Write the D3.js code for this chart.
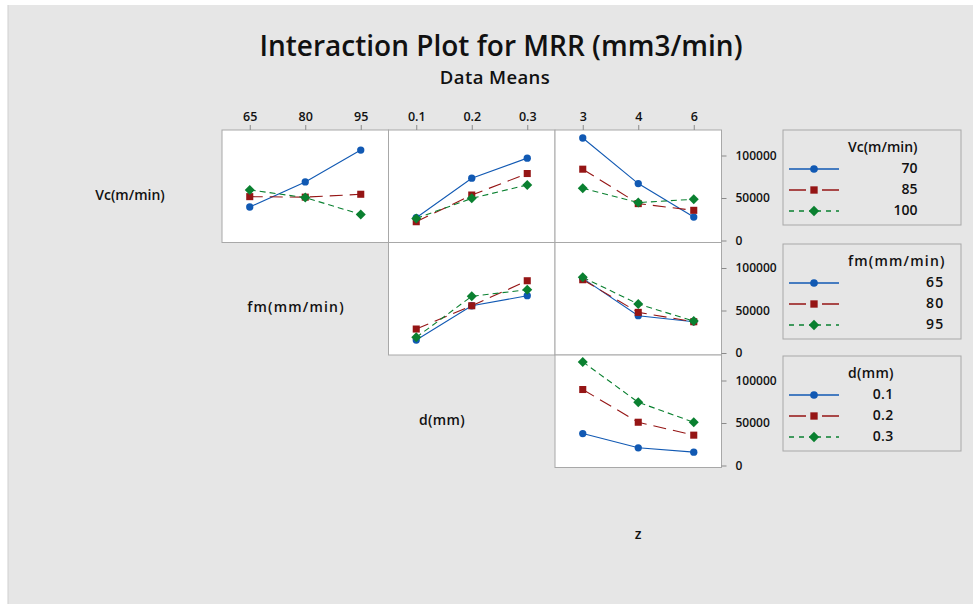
<!DOCTYPE html>
<html>
<head>
<meta charset="utf-8">
<script src="https://cdn.jsdelivr.net/npm/d3@7"></script>
<style>
  body { margin: 0; background: #fff; }
  text { font-family: "Open Sans", "Noto Sans", sans-serif; fill: #111; }
</style>
</head>
<body>
<div id="plot"></div>
<script>
// Factor levels
const vcLevels = ["70", "85", "100"];
const fmLevels = ["65", "80", "95"];
const dLevels = ["0.1", "0.2", "0.3"];
const zLevels = ["3", "4", "6"];

// Means, one row per line level
const vcByFm = [[39400, 68900, 106400], [51600, 51000, 54400], [59500, 50500, 30700]];
const vcByD = [[26800, 73300, 96900], [22100, 53500, 78800], [26000, 49600, 65400]];
const vcByZ = [[120600, 67000, 27600], [83900, 43400, 35500], [61500, 44600, 48500]];
const fmByD = [[15300, 55600, 67400], [28200, 55600, 85000], [18400, 66700, 74500]];
const fmByZ = [[87800, 43900, 36800], [86200, 47800, 36800], [89000, 57600, 37600]];
const dByZ = [[37600, 20800, 15700], [89400, 50900, 35700], [121900, 74400, 50900]];

const yTicks = [0, 50000, 100000];

const colors = ["#1159b3", "#951515", "#0a8030"];
const dashes = [null, "13,7", "6,4"];
const lineW = 1.1;

const W = 973, H = 606;
const colX = [222, 388.5, 555];
const panelW = 166.5;
const rowY = [130, 242.5, 355];
const panelH = 112.5;

const svg = d3.select("#plot").append("svg")
  .attr("width", W).attr("height", H);

// background
svg.append("rect").attr("x", 8).attr("y", 5).attr("width", W - 8).attr("height", 599).attr("fill", "#e6e6e6");
svg.append("line").attr("x1", 8).attr("x2", 8).attr("y1", 5).attr("y2", 604).attr("stroke", "#cfcfcf");

// titles
svg.append("text").attr("x", 501).attr("y", 56).attr("text-anchor", "middle")
  .style("font-size", "28px").style("font-weight", 600).text("Interaction Plot for MRR (mm3/min)");
svg.append("text").attr("x", 495).attr("y", 84).attr("text-anchor", "middle")
  .style("font-size", "18.5px").style("font-weight", 600).style("letter-spacing", "0.4px").text("Data Means");

const y = d3.scaleLinear().domain([-2350, 130000]).range([panelH, 0]);

// circle, square, diamond (square turned 45 degrees)
function marker(sel, i, size) {
  const types = [d3.symbolCircle, d3.symbolSquare, d3.symbolSquare];
  return sel.attr("d", d3.symbol().type(types[i]).size(size)());
}
const markerSizes = [42, 50, 50];

function drawPanel(col, row, levels, data, showTop) {
  const g = svg.append("g").attr("transform", `translate(${colX[col]},${rowY[row]})`);
  const x = d3.scalePoint().domain(levels).range([0, panelW]).padding(0.5);

  g.append("rect").attr("width", panelW).attr("height", panelH)
    .attr("fill", "#fff").attr("stroke", "#a8a8a8").attr("stroke-width", 1);

  if (showTop) {
    const ax = g.append("g").call(d3.axisTop(x).tickSize(5).tickPadding(4));
    ax.select(".domain").remove();
    ax.selectAll(".tick line").attr("stroke", "#8a8a8a");
    ax.selectAll(".tick text").style("font-size", "12.5px").style("font-weight", 600)
      .style("font-family", "'Open Sans', sans-serif").attr("fill", "#222");
  }

  const line = d3.line().x((d, i) => x(levels[i])).y(d => y(d));
  data.forEach((series, s) => {
    g.append("path").datum(series)
      .attr("d", line).attr("fill", "none")
      .attr("stroke", colors[s]).attr("stroke-width", lineW)
      .attr("stroke-dasharray", dashes[s]);
  });
  data.forEach((series, s) => {
    g.selectAll(null).data(series).enter().append("path")
      .call(marker, s, markerSizes[s])
      .attr("transform", (d, i) => `translate(${x(levels[i])},${y(d)})` + (s === 2 ? " rotate(45)" : ""))
      .attr("fill", colors[s]);
  });
  return g;
}

function drawRightAxis(row) {
  const g = svg.append("g").attr("transform", `translate(${colX[2] + panelW},${rowY[row]})`);
  const ax = g.call(d3.axisRight(y).tickValues(yTicks).tickSize(5).tickPadding(9).tickFormat(d3.format("d")));
  ax.select(".domain").remove();
  ax.selectAll(".tick line").attr("stroke", "#8a8a8a");
  ax.selectAll(".tick text").style("font-size", "12px").style("font-weight", 600)
    .style("font-family", "'Open Sans', sans-serif").attr("fill", "#222");
}

drawPanel(0, 0, fmLevels, vcByFm, true);
drawPanel(1, 0, dLevels, vcByD, true);
drawPanel(2, 0, zLevels, vcByZ, true);
drawPanel(1, 1, dLevels, fmByD, false);
drawPanel(2, 1, zLevels, fmByZ, false);
drawPanel(2, 2, zLevels, dByZ, false);
[0, 1, 2].forEach(drawRightAxis);

// row factor labels and the last column label
const rowLabels = [
  {text: "Vc(m/min)", x: 130, y: 196, sp: 0},
  {text: "fm(mm/min)", x: 296, y: 308, sp: 1.2},
  {text: "d(mm)", x: 442, y: 421, sp: 0.3},
  {text: "z", x: 638, y: 535, sp: 0}
];
rowLabels.forEach(l => {
  svg.append("text").attr("x", l.x).attr("y", l.y).attr("text-anchor", "middle")
    .attr("dominant-baseline", "middle").style("letter-spacing", l.sp + "px")
    .style("font-size", "14px").style("font-weight", 600).text(l.text);
});

// legends
const legends = [
  {title: "Vc(m/min)", levels: vcLevels, top: 130, sp: 0},
  {title: "fm(mm/min)", levels: fmLevels, top: 244, sp: 1.2},
  {title: "d(mm)", levels: dLevels, top: 356, sp: 0.3}
];
legends.forEach(lg => {
  const g = svg.append("g").attr("transform", `translate(783,${lg.top})`);
  g.append("rect").attr("width", 178).attr("height", 95)
    .attr("fill", "#e6e6e6").attr("stroke", "#a8a8a8");
  const t = g.append("text").attr("x", 65).attr("y", 18).attr("dominant-baseline", "middle")
    .style("letter-spacing", lg.sp + "px")
    .style("font-size", "14px").style("font-weight", 600).text(lg.title);
  const right = 65 + t.node().getComputedTextLength() - lg.sp;
  lg.levels.forEach((lev, i) => {
    const yy = 39 + i * 21;
    g.append("line").attr("x1", 6).attr("x2", 56).attr("y1", yy).attr("y2", yy)
      .attr("stroke", colors[i]).attr("stroke-width", 1.3)
      .attr("stroke-dasharray", i === 0 ? null : (i === 1 ? "17,16,17" : "5,5,5,5,12,5,5"));
    g.append("path").call(marker, i, markerSizes[i] + 4)
      .attr("transform", `translate(31,${yy})` + (i === 2 ? " rotate(45)" : ""))
      .attr("fill", colors[i]);
    g.append("text").attr("x", right).attr("y", yy).attr("text-anchor", "end")
      .attr("dominant-baseline", "middle").style("letter-spacing", lg.sp + "px")
      .style("font-size", "14px").style("font-weight", 600).text(lev);
  });
});
</script>
</body>
</html>
